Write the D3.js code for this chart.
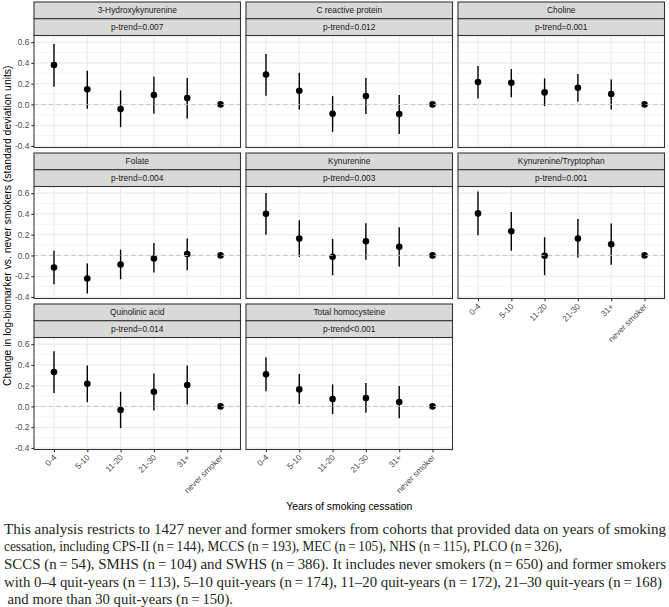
<!DOCTYPE html>
<html><head><meta charset="utf-8">
<script src="https://cdn.jsdelivr.net/npm/d3@7"></script>
<style>body{margin:0;background:#fff} svg{display:block}</style>
</head><body>
<svg id="c" width="669" height="607"></svg>
<script>
// ---------- data ----------
const categories = ["0-4", "5-10", "11-20", "21-30", "31+", "never smoker"];
const biomarkers = ["3-Hydroxykynurenine", "C reactive protein", "Choline", "Folate", "Kynurenine",
  "Kynurenine/Tryptophan", "Quinolinic acid", "Total homocysteine"];
const pTrends = ["p-trend=0.007", "p-trend=0.012", "p-trend=0.001", "p-trend=0.004", "p-trend=0.003",
  "p-trend=0.001", "p-trend=0.014", "p-trend<0.001"];
const estimates = [
  [0.379, 0.145, -0.045, 0.090, 0.061, 0],
  [0.289, 0.132, -0.090, 0.080, -0.093, 0],
  [0.215, 0.209, 0.116, 0.161, 0.100, 0],
  [-0.117, -0.223, -0.087, -0.029, 0.013, 0],
  [0.401, 0.162, -0.013, 0.136, 0.084, 0],
  [0.405, 0.233, -0.003, 0.162, 0.107, 0],
  [0.331, 0.219, -0.035, 0.141, 0.206, 0],
  [0.309, 0.164, 0.071, 0.080, 0.042, 0]
];
const lower = [
  [0.170, -0.042, -0.219, -0.090, -0.135, 0],
  [0.084, -0.048, -0.264, -0.093, -0.286, 0],
  [0.058, 0.068, -0.016, 0.026, -0.048, 0],
  [-0.278, -0.366, -0.230, -0.165, -0.142, 0],
  [0.200, -0.016, -0.191, -0.042, -0.107, 0],
  [0.194, 0.045, -0.191, -0.019, -0.091, 0],
  [0.129, 0.039, -0.209, -0.039, 0.019, 0],
  [0.145, 0.023, -0.074, -0.061, -0.113, 0]
];
const upper = [
  [0.582, 0.325, 0.135, 0.270, 0.254, 0],
  [0.486, 0.305, 0.080, 0.254, 0.090, 0],
  [0.370, 0.341, 0.251, 0.293, 0.241, 0],
  [0.045, -0.078, 0.055, 0.120, 0.162, 0],
  [0.602, 0.340, 0.159, 0.311, 0.272, 0],
  [0.615, 0.418, 0.175, 0.350, 0.307, 0],
  [0.531, 0.395, 0.141, 0.318, 0.395, 0],
  [0.473, 0.312, 0.212, 0.225, 0.196, 0]
];
const yTicks = [-0.4, -0.2, 0.0, 0.2, 0.4, 0.6];
const xTitle = "Years of smoking cessation";
const yTitle = "Change in log-biomarker vs. never smokers (standard deviation units)";
const captionLines = [
  "This analysis restricts to 1427 never and former smokers from cohorts that provided data on years of smoking",
  "cessation, including CPS-II (n\u2009=\u2009144), MCCS (n\u2009=\u2009193), MEC (n\u2009=\u2009105), NHS (n\u2009=\u2009115), PLCO (n\u2009=\u2009326),",
  "SCCS (n\u2009=\u200954), SMHS (n\u2009=\u2009104) and SWHS (n\u2009=\u2009386). It includes never smokers (n\u2009=\u2009650) and former smokers",
  "with 0\u20134 quit-years (n\u2009=\u2009113), 5\u201310 quit-years (n\u2009=\u2009174), 11\u201320 quit-years (n\u2009=\u2009172), 21\u201330 quit-years (n\u2009=\u2009168)",
  "and more than 30 quit-years (n\u2009=\u2009150)."
];

// ---------- layout ----------
const svg = d3.select("#c");
const sans = "'Liberation Sans', Arial, Helvetica, sans-serif";
const colLeft = [34, 246, 458];
const rowTop = [2, 153, 304];
const panelW = 206.5, stripH = 16.75, plotH = 112;
const nCols = 3;
const smallFont = 8.4, titleFont = 10.4;

const x = d3.scalePoint().domain(categories).range([0, panelW]).padding(0.6);
const allLo = d3.min(lower.flat()), allHi = d3.max(upper.flat());
const rng = allHi - allLo;
const y = d3.scaleLinear().domain([allLo - 0.05 * rng, allHi + 0.05 * rng]).range([plotH, 0]);
const minorTicks = d3.pairs(yTicks).map(([a, b]) => (a + b) / 2);
const fmt = v => d3.format(".1f")(v).replace("\u2212", "-");

biomarkers.forEach((name, i) => {
  const col = i % nCols, row = Math.floor(i / nCols);
  const left = colLeft[col], top = rowTop[row];
  const pTop = top + 2 * stripH;
  const g = svg.append("g").attr("transform", `translate(${left},${pTop})`);

  g.append("rect").attr("width", panelW).attr("height", plotH).attr("fill", "#fff");
  g.selectAll(".ming").data(minorTicks).join("line")
    .attr("x1", 0).attr("x2", panelW).attr("y1", d => y(d)).attr("y2", d => y(d))
    .attr("stroke", "#EBEBEB").attr("stroke-width", 0.55);
  g.selectAll(".majg").data(yTicks).join("line")
    .attr("x1", 0).attr("x2", panelW).attr("y1", d => y(d)).attr("y2", d => y(d))
    .attr("stroke", "#EBEBEB").attr("stroke-width", 1.07);
  g.selectAll(".majx").data(categories).join("line")
    .attr("x1", d => x(d)).attr("x2", d => x(d)).attr("y1", 0).attr("y2", plotH)
    .attr("stroke", "#EBEBEB").attr("stroke-width", 1.07);

  g.selectAll(".eb").data(categories).join("line")
    .attr("x1", d => x(d)).attr("x2", d => x(d))
    .attr("y1", (d, j) => y(lower[i][j])).attr("y2", (d, j) => y(upper[i][j]))
    .attr("stroke", "#000").attr("stroke-width", 1.4);
  g.selectAll(".pt").data(categories).join("circle")
    .attr("cx", d => x(d)).attr("cy", (d, j) => y(estimates[i][j])).attr("r", 3.3)
    .attr("fill", "#000");
  g.append("line").attr("x1", 0).attr("x2", panelW).attr("y1", y(0)).attr("y2", y(0))
    .attr("stroke", "#BDBDBD").attr("stroke-width", 0.9).attr("stroke-dasharray", "4,3.5");

  g.append("rect").attr("width", panelW).attr("height", plotH)
    .attr("fill", "none").attr("stroke", "#333").attr("stroke-width", 1.07);

  [name, pTrends[i]].forEach((lab, k) => {
    const sy = top + k * stripH;
    svg.append("rect").attr("x", left).attr("y", sy).attr("width", panelW).attr("height", stripH)
      .attr("fill", "#D9D9D9").attr("stroke", "#333").attr("stroke-width", 1.07);
    svg.append("text").attr("x", left + panelW / 2).attr("y", sy + stripH / 2 + 3)
      .attr("text-anchor", "middle").attr("font-family", sans).attr("font-size", smallFont)
      .attr("fill", "#1A1A1A").text(lab);
  });

  if (col === 0) {
    const ax = g.append("g").call(d3.axisLeft(y).tickValues(yTicks).tickFormat(fmt)
      .tickSize(2.7).tickPadding(2));
    ax.select(".domain").remove();
    ax.selectAll("line").attr("stroke", "#333").attr("stroke-width", 1.07);
    ax.selectAll("text").attr("font-family", sans).attr("font-size", smallFont).attr("fill", "#4D4D4D");
  }
  const below = i + nCols;
  if (below >= biomarkers.length) {
    const ax = g.append("g").attr("transform", `translate(0,${plotH})`)
      .call(d3.axisBottom(x).tickSize(2.7).tickFormat(() => ""));
    ax.select(".domain").remove();
    ax.selectAll("line").attr("stroke", "#333").attr("stroke-width", 1.07);
    g.selectAll(".xl").data(categories).join("text")
      .attr("transform", d => `translate(${x(d) + 3},${plotH + 8.5}) rotate(-45)`)
      .attr("text-anchor", "end").attr("font-family", sans).attr("font-size", smallFont)
      .attr("fill", "#4D4D4D").text(d => d);
  }
});

const panelsRight = colLeft[nCols - 1] + panelW;
svg.append("text").attr("x", (colLeft[0] + panelsRight) / 2).attr("y", 509.5)
  .attr("text-anchor", "middle").attr("font-family", sans).attr("font-size", titleFont)
  .attr("fill", "#000").text(xTitle);
const plotsBottom = rowTop[2] + 2 * stripH + plotH;
svg.append("text")
  .attr("transform", `translate(11,${(rowTop[0] + plotsBottom) / 2}) rotate(-90)`)
  .attr("text-anchor", "middle").attr("font-family", sans).attr("font-size", titleFont)
  .attr("fill", "#000").text(yTitle);

const capX = [4, 4, 4, 4, 7.5];
const capEnd = [666, 562, 666, 662, 233];
captionLines.forEach((t, k) => {
  svg.append("text").attr("x", capX[k]).attr("y", 533.5 + k * 17.7)
    .attr("font-family", "'Liberation Serif', 'Times New Roman', serif").attr("font-size", 14.3)
    .attr("fill", "#231F20")
    .attr("textLength", capEnd[k] - capX[k]).attr("lengthAdjust", "spacingAndGlyphs").text(t);
});
</script>
</body></html>
